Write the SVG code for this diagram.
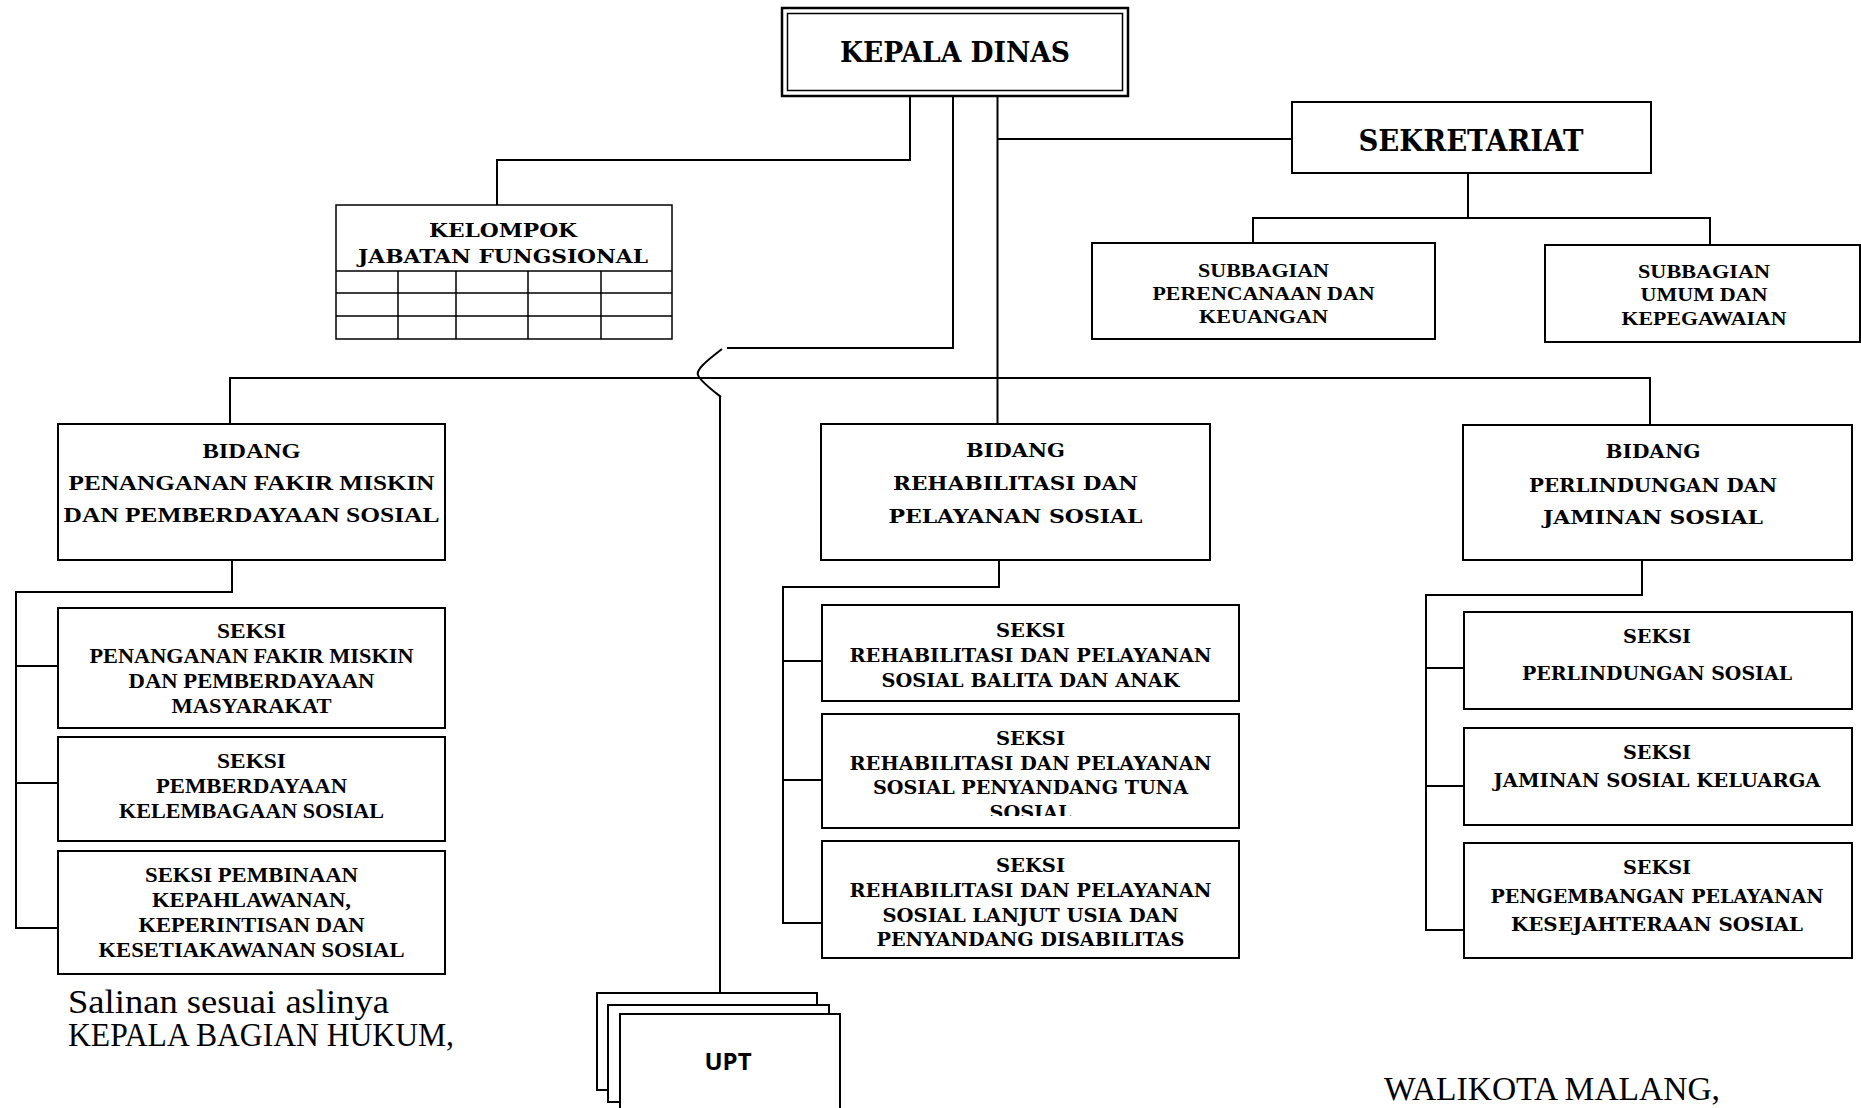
<svg xmlns="http://www.w3.org/2000/svg" width="1861" height="1108" viewBox="0 0 1861 1108">
<style>
.box{fill:#fff;stroke:#000;stroke-width:2}
.ln{fill:none;stroke:#000;stroke-width:2}
.thin{fill:none;stroke:#000;stroke-width:1.5}
.w{font-family:"DejaVu Serif",serif;font-weight:bold;text-anchor:middle;fill:#000}
.c{font-family:"Liberation Serif",serif;font-weight:bold;text-anchor:middle;fill:#000}
.r{font-family:"Liberation Serif",serif;fill:#000;font-size:33px}
</style>
<defs>
<clipPath id="clipS2"><rect x="822" y="714" width="417" height="102"/></clipPath>
</defs>
<rect width="1861" height="1108" fill="#fff"/>
<g id="connectors">
<path class="ln" d="M910 96V160H497V206"/>
<path class="ln" d="M953 96V348H727"/>
<path class="ln" d="M722 349C705 362 696 370 698 375C700 381 712 390 721 397M720 397V994"/>
<path class="ln" d="M997.5 96V424"/>
<path class="ln" d="M997.5 139H1292"/>
<path class="ln" d="M230 424V378H1650V425"/>
<path class="ln" d="M1468 173V218M1253 243V218H1710V245"/>
<path class="ln" d="M232 560V592H16V928H58M16 666H58M16 783H58"/>
<path class="ln" d="M999 560V587H783V923H822M783 661H822M783 780H822"/>
<path class="ln" d="M1642 560V595H1426V930H1464M1426 668H1464M1426 786H1464"/>
</g>
<g id="kepala-dinas">
<rect x="782" y="8" width="346" height="88" fill="#fff" stroke="#000" stroke-width="2.5"/>
<rect x="787.5" y="13.5" width="335" height="77" fill="none" stroke="#000" stroke-width="1.5"/>
<text class="w" x="955" y="62" font-size="27" textLength="230" lengthAdjust="spacingAndGlyphs">KEPALA DINAS</text>
</g>
<g id="kelompok">
<rect x="336" y="205" width="336" height="134" fill="#fff" stroke="#000" stroke-width="1.5"/>
<path class="thin" d="M336 271H672M336 293H672M336 316H672M398 271V339M456 271V339M528 271V339M601 271V339"/>
<text class="w" x="503" y="237" font-size="18" textLength="148" lengthAdjust="spacingAndGlyphs">KELOMPOK</text>
<text class="w" x="503" y="263" font-size="18" textLength="290" lengthAdjust="spacingAndGlyphs">JABATAN FUNGSIONAL</text>
</g>
<g id="sekretariat">
<rect class="box" x="1292" y="102" width="359" height="71"/>
<text class="w" x="1471" y="151" font-size="29" textLength="225" lengthAdjust="spacingAndGlyphs">SEKRETARIAT</text>
</g>
<g id="subbagian-perencanaan">
<rect class="box" x="1092" y="243" width="343" height="96"/>
<text class="c" x="1263.5" y="277" font-size="18" textLength="131" lengthAdjust="spacingAndGlyphs">SUBBAGIAN</text>
<text class="c" x="1263.5" y="300" font-size="18" textLength="222" lengthAdjust="spacingAndGlyphs">PERENCANAAN DAN</text>
<text class="c" x="1263.5" y="323" font-size="18" textLength="129" lengthAdjust="spacingAndGlyphs">KEUANGAN</text>
</g>
<g id="subbagian-umum">
<rect class="box" x="1545" y="245" width="315" height="97"/>
<text class="c" x="1704" y="278" font-size="18" textLength="132" lengthAdjust="spacingAndGlyphs">SUBBAGIAN</text>
<text class="c" x="1704" y="301" font-size="18" textLength="127" lengthAdjust="spacingAndGlyphs">UMUM DAN</text>
<text class="c" x="1704" y="325" font-size="18" textLength="165" lengthAdjust="spacingAndGlyphs">KEPEGAWAIAN</text>
</g>
<g id="bidang-pfm">
<rect class="box" x="58" y="424" width="387" height="136"/>
<text class="c" x="251.5" y="458" font-size="21" textLength="98" lengthAdjust="spacingAndGlyphs">BIDANG</text>
<text class="c" x="251.5" y="490" font-size="21" textLength="366" lengthAdjust="spacingAndGlyphs">PENANGANAN FAKIR MISKIN</text>
<text class="c" x="251.5" y="522" font-size="21" textLength="376" lengthAdjust="spacingAndGlyphs">DAN PEMBERDAYAAN SOSIAL</text>
</g>
<g id="seksi-pfm">
<rect class="box" x="58" y="608" width="387" height="120"/>
<text class="c" x="251.5" y="638" font-size="20" textLength="69" lengthAdjust="spacingAndGlyphs">SEKSI</text>
<text class="c" x="251.5" y="663" font-size="20" textLength="324" lengthAdjust="spacingAndGlyphs">PENANGANAN FAKIR MISKIN</text>
<text class="c" x="251.5" y="688" font-size="20" textLength="246" lengthAdjust="spacingAndGlyphs">DAN PEMBERDAYAAN</text>
<text class="c" x="251.5" y="713" font-size="20" textLength="160" lengthAdjust="spacingAndGlyphs">MASYARAKAT</text>
</g>
<g id="seksi-pks">
<rect class="box" x="58" y="737" width="387" height="104"/>
<text class="c" x="251.5" y="768" font-size="20" textLength="69" lengthAdjust="spacingAndGlyphs">SEKSI</text>
<text class="c" x="251.5" y="793" font-size="20" textLength="191" lengthAdjust="spacingAndGlyphs">PEMBERDAYAAN</text>
<text class="c" x="251.5" y="818" font-size="20" textLength="265" lengthAdjust="spacingAndGlyphs">KELEMBAGAAN SOSIAL</text>
</g>
<g id="seksi-pembinaan">
<rect class="box" x="58" y="851" width="387" height="123"/>
<text class="c" x="251.5" y="882" font-size="20" textLength="213" lengthAdjust="spacingAndGlyphs">SEKSI PEMBINAAN</text>
<text class="c" x="251.5" y="907" font-size="20" textLength="199" lengthAdjust="spacingAndGlyphs">KEPAHLAWANAN,</text>
<text class="c" x="251.5" y="932" font-size="20" textLength="226" lengthAdjust="spacingAndGlyphs">KEPERINTISAN DAN</text>
<text class="c" x="251.5" y="957" font-size="20" textLength="306" lengthAdjust="spacingAndGlyphs">KESETIAKAWANAN SOSIAL</text>
</g>
<g id="bidang-rps">
<rect class="box" x="821" y="424" width="389" height="136"/>
<text class="w" x="1015.5" y="457" font-size="19" textLength="99" lengthAdjust="spacingAndGlyphs">BIDANG</text>
<text class="w" x="1015.5" y="490" font-size="19" textLength="245" lengthAdjust="spacingAndGlyphs">REHABILITASI DAN</text>
<text class="w" x="1015.5" y="523" font-size="19" textLength="254" lengthAdjust="spacingAndGlyphs">PELAYANAN SOSIAL</text>
</g>
<g id="seksi-balita">
<rect class="box" x="822" y="605" width="417" height="96"/>
<text class="w" x="1030.5" y="637" font-size="18" textLength="69" lengthAdjust="spacingAndGlyphs">SEKSI</text>
<text class="w" x="1030.5" y="662" font-size="18" textLength="362" lengthAdjust="spacingAndGlyphs">REHABILITASI DAN PELAYANAN</text>
<text class="w" x="1030.5" y="687" font-size="18" textLength="298" lengthAdjust="spacingAndGlyphs">SOSIAL BALITA DAN ANAK</text>
</g>
<g id="seksi-tuna">
<rect class="box" x="822" y="714" width="417" height="114"/>
<text class="w" x="1030.5" y="745" font-size="18" textLength="69" lengthAdjust="spacingAndGlyphs">SEKSI</text>
<text class="w" x="1030.5" y="770" font-size="18" textLength="362" lengthAdjust="spacingAndGlyphs">REHABILITASI DAN PELAYANAN</text>
<text class="w" x="1030.5" y="794" font-size="18" textLength="315" lengthAdjust="spacingAndGlyphs">SOSIAL PENYANDANG TUNA</text>
<text class="w" x="1030.5" y="819" font-size="18" textLength="82" lengthAdjust="spacingAndGlyphs" clip-path="url(#clipS2)">SOSIAL</text>
</g>
<g id="seksi-lansia">
<rect class="box" x="822" y="841" width="417" height="117"/>
<text class="w" x="1030.5" y="872" font-size="18" textLength="69" lengthAdjust="spacingAndGlyphs">SEKSI</text>
<text class="w" x="1030.5" y="897" font-size="18" textLength="362" lengthAdjust="spacingAndGlyphs">REHABILITASI DAN PELAYANAN</text>
<text class="w" x="1030.5" y="922" font-size="18" textLength="296" lengthAdjust="spacingAndGlyphs">SOSIAL LANJUT USIA DAN</text>
<text class="w" x="1030.5" y="946" font-size="18" textLength="308" lengthAdjust="spacingAndGlyphs">PENYANDANG DISABILITAS</text>
</g>
<g id="bidang-pjs">
<rect class="box" x="1463" y="425" width="389" height="135"/>
<text class="w" x="1653" y="458" font-size="19" textLength="95" lengthAdjust="spacingAndGlyphs">BIDANG</text>
<text class="w" x="1653" y="492" font-size="19" textLength="248" lengthAdjust="spacingAndGlyphs">PERLINDUNGAN DAN</text>
<text class="w" x="1653" y="524" font-size="19" textLength="220" lengthAdjust="spacingAndGlyphs">JAMINAN SOSIAL</text>
</g>
<g id="seksi-perlindungan">
<rect class="box" x="1464" y="612" width="388" height="97"/>
<text class="w" x="1657" y="643" font-size="18" textLength="68" lengthAdjust="spacingAndGlyphs">SEKSI</text>
<text class="w" x="1657" y="680" font-size="18" textLength="270" lengthAdjust="spacingAndGlyphs">PERLINDUNGAN SOSIAL</text>
</g>
<g id="seksi-jaminan">
<rect class="box" x="1464" y="728" width="388" height="97"/>
<text class="w" x="1657" y="759" font-size="18" textLength="68" lengthAdjust="spacingAndGlyphs">SEKSI</text>
<text class="w" x="1657" y="787" font-size="18" textLength="327" lengthAdjust="spacingAndGlyphs">JAMINAN SOSIAL KELUARGA</text>
</g>
<g id="seksi-pengembangan">
<rect class="box" x="1464" y="843" width="388" height="115"/>
<text class="w" x="1657" y="874" font-size="18" textLength="68" lengthAdjust="spacingAndGlyphs">SEKSI</text>
<text class="w" x="1657" y="903" font-size="18" textLength="333" lengthAdjust="spacingAndGlyphs">PENGEMBANGAN PELAYANAN</text>
<text class="w" x="1657" y="931" font-size="18" textLength="292" lengthAdjust="spacingAndGlyphs">KESEJAHTERAAN SOSIAL</text>
</g>
<g id="upt">
<rect class="box" x="597" y="993" width="220" height="97"/>
<rect class="box" x="608" y="1005" width="221" height="97"/>
<rect class="box" x="620" y="1014" width="220" height="110"/>
<text x="728" y="1070" font-family="'Open Sans',sans-serif" font-weight="bold" font-size="24" text-anchor="middle">UPT</text>
</g>
<g id="signatures">
<text class="r" x="68" y="1013" textLength="321" lengthAdjust="spacingAndGlyphs">Salinan sesuai aslinya</text>
<text class="r" x="68" y="1046" textLength="386" lengthAdjust="spacingAndGlyphs">KEPALA BAGIAN HUKUM,</text>
<text class="r" x="1384" y="1100" textLength="336" lengthAdjust="spacingAndGlyphs">WALIKOTA MALANG,</text>
</g>
</svg>
